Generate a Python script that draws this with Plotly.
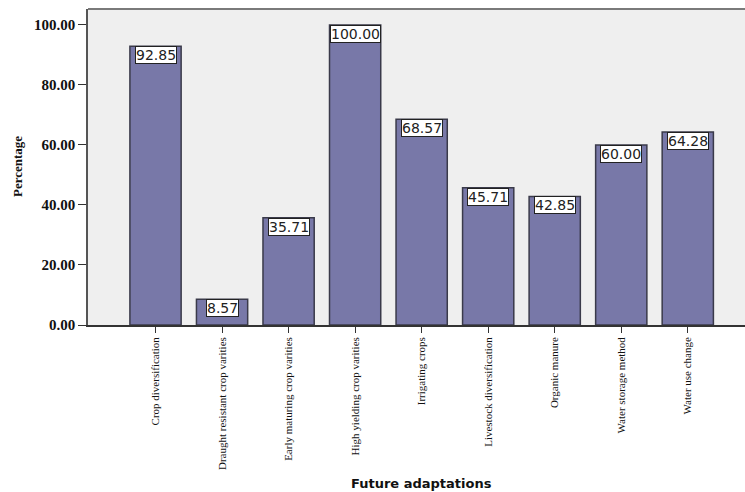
import plotly.graph_objects as go

categories = [
    "Crop diversification",
    "Draught resistant crop varities",
    "Early maturing crop varities",
    "High yielding crop varities",
    "Irrigating crops",
    "Livestock diversification",
    "Organic manure",
    "Water storage method",
    "Water use change",
]
percentages = [92.85, 8.57, 35.71, 100.00, 68.57, 45.71, 42.85, 60.00, 64.28]
y_ticks = [0, 20, 40, 60, 80, 100]

BAR_FILL = "#7878a8"
BAR_EDGE = "#3a3a4a"
PLOT_BG = "#efefef"

fig = go.Figure(
    go.Bar(
        x=list(range(len(categories))),
        y=percentages,
        width=0.77,
        marker=dict(color=BAR_FILL, line=dict(color=BAR_EDGE, width=1.5)),
        hoverinfo="skip",
    )
)

# value labels boxed at the top of each bar
for i, v in enumerate(percentages):
    fig.add_annotation(
        x=i, y=v, xref="x", yref="y",
        text=f"{v:.2f}",
        showarrow=False,
        yanchor="top",
        font=dict(family="DejaVu Sans", size=14, color="#222222"),
        bgcolor="white",
        bordercolor="#222222",
        borderwidth=1,
        borderpad=0,
    )

fig.add_annotation(
    x=0.5, y=0, xref="paper", yref="paper",
    text="<b>Future adaptations</b>",
    showarrow=False, yanchor="middle", yshift=-158, xshift=5,
    font=dict(family="DejaVu Sans", size=13, color="#111111"),
)
fig.add_annotation(
    x=0, y=0.5, xref="paper", yref="paper",
    text="<b>Percentage</b>", textangle=-90,
    showarrow=False, xanchor="center", xshift=-71,
    font=dict(family="Liberation Serif", size=13, color="#111111"),
)

# frame line along the top of the plotting area
fig.add_shape(
    type="line", xref="paper", yref="paper",
    x0=0, x1=1, y0=1, y1=1,
    line=dict(color="#7a7a7a", width=2),
)

fig.update_layout(
    width=745, height=492,
    margin=dict(l=88, r=0, t=9, b=167),
    paper_bgcolor="white",
    plot_bgcolor=PLOT_BG,
    showlegend=False,
    bargap=0.23,
)
fig.update_xaxes(
    range=[-1.015, 8.86],
    tickmode="array",
    tickvals=list(range(len(categories))),
    ticktext=categories,
    tickangle=-90,
    ticks="outside", ticklen=6, tickcolor="#333333", tickwidth=1,
    showline=True, linecolor="#333333", linewidth=1.5,
    showgrid=False, zeroline=False,
    tickfont=dict(family="Liberation Serif", size=11, color="#111111"),
)
fig.update_yaxes(
    range=[0, 105.3],
    tickmode="array",
    tickvals=y_ticks,
    ticktext=[f"{t:.2f}" for t in y_ticks],
    ticks="outside", ticklen=8, tickcolor="#333333", tickwidth=1,
    showline=True, linecolor="#555555", linewidth=1.5,
    showgrid=False, zeroline=False,
    tickfont=dict(family="Liberation Serif", size=15, color="#111111", weight="bold"),
)

fig.write_html("out.html")
